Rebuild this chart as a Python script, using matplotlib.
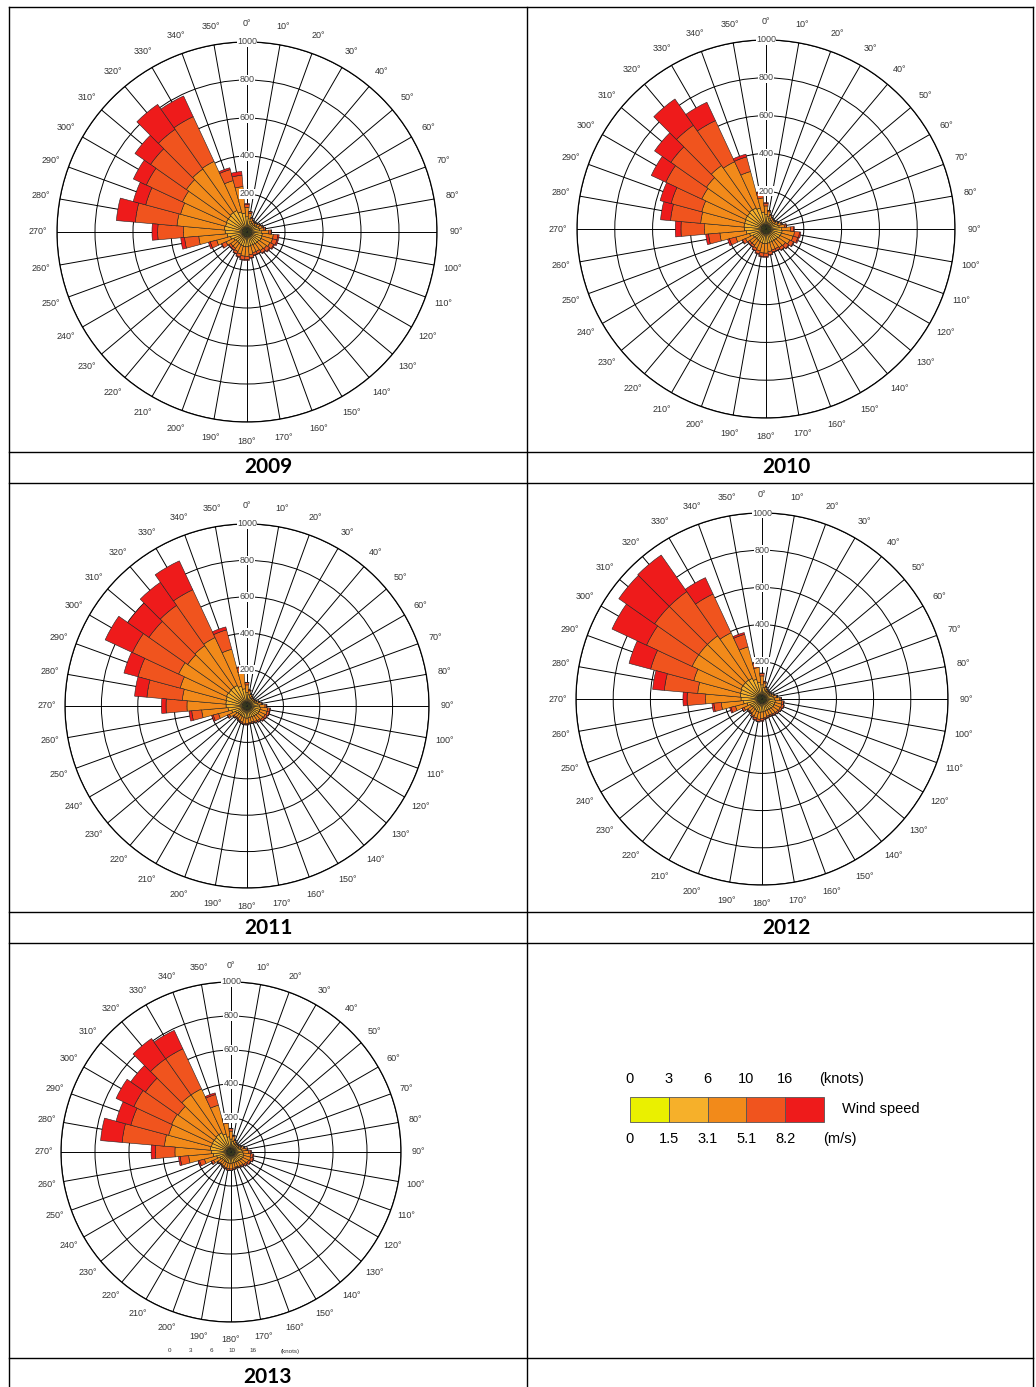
import numpy as np
import matplotlib
matplotlib.use("Agg")
import matplotlib.pyplot as plt
from matplotlib.lines import Line2D
from matplotlib.patches import Rectangle

plt.rcParams["font.family"] = ["Liberation Sans", "DejaVu Sans"]

W, H = 1036, 1387

# Data: counts per 10-degree sector, split by wind-speed class
directions = np.arange(0, 360, 10)
speed_colors = ["#EAF000", "#F6B02A", "#F28A1A", "#F0541E", "#EE1B1B"]
knots_ticks = ["0", "3", "6", "10", "16"]
ms_ticks = ["0", "1.5", "3.1", "5.1", "8.2"]
r_ticks = [200, 400, 600, 800, 1000]
years = ["2009", "2010", "2011", "2012", "2013"]

# each: [0-1.5, 1.5-3.1, 3.1-5.1, 5.1-8.2, >8.2 m/s], directions 0..350
wr2009 = [
    [25, 25, 22, 22, 20, 22, 22, 24, 25, 25, 26, 26, 26, 25, 25, 25, 25, 25, 26, 26, 25, 25, 24, 24, 25, 25, 25, 25, 25, 25, 25, 25, 25, 25, 25, 25],
    [55, 45, 35, 30, 28, 30, 35, 40, 42, 50, 55, 55, 55, 50, 50, 48, 48, 50, 52, 52, 50, 48, 46, 46, 52, 65, 80, 90, 95, 92, 95, 95, 100, 100, 85, 75],
    [50, 30, 17, 14, 13, 14, 17, 19, 23, 40, 58, 58, 52, 50, 45, 40, 40, 45, 50, 50, 45, 40, 35, 35, 45, 75, 150, 220, 250, 245, 255, 270, 280, 285, 170, 140],
    [15, 8, 5, 4, 4, 4, 5, 6, 8, 12, 24, 24, 22, 20, 16, 14, 14, 16, 18, 18, 16, 14, 12, 12, 24, 35, 75, 135, 220, 190, 210, 230, 255, 260, 60, 60],
    [5, 2, 1, 0, 0, 0, 1, 1, 2, 3, 7, 7, 5, 5, 4, 3, 3, 4, 4, 4, 4, 3, 3, 3, 4, 10, 20, 30, 100, 68, 75, 100, 160, 120, 10, 20],
]
wr2010 = [
    [25, 24, 22, 22, 20, 20, 22, 24, 25, 26, 26, 26, 26, 25, 25, 25, 25, 25, 26, 26, 25, 25, 24, 24, 25, 25, 25, 25, 25, 25, 25, 25, 25, 25, 25, 25],
    [52, 42, 35, 30, 28, 28, 33, 40, 45, 55, 60, 58, 55, 50, 48, 48, 48, 50, 52, 52, 50, 48, 46, 46, 50, 65, 80, 90, 92, 92, 95, 95, 100, 98, 90, 65],
    [45, 26, 17, 14, 13, 13, 15, 19, 28, 48, 65, 64, 58, 50, 48, 42, 42, 45, 50, 50, 45, 40, 35, 35, 45, 75, 140, 210, 230, 235, 255, 265, 285, 270, 200, 75],
    [14, 6, 5, 4, 4, 4, 4, 6, 10, 17, 27, 26, 22, 21, 16, 12, 12, 16, 18, 18, 16, 14, 12, 12, 17, 35, 60, 125, 160, 168, 210, 230, 260, 240, 80, 28],
    [4, 2, 1, 0, 0, 0, 1, 1, 2, 4, 7, 6, 4, 4, 3, 3, 3, 4, 4, 4, 4, 3, 3, 3, 3, 10, 15, 30, 53, 60, 85, 105, 170, 107, 15, 7],
]
wr2011 = [
    [24, 22, 20, 20, 18, 18, 20, 22, 23, 24, 24, 24, 24, 24, 23, 23, 22, 22, 23, 23, 22, 22, 21, 21, 23, 25, 25, 25, 25, 25, 25, 25, 25, 25, 25, 25],
    [50, 40, 32, 28, 26, 26, 28, 32, 38, 45, 50, 50, 48, 46, 44, 42, 42, 42, 44, 44, 42, 40, 38, 40, 46, 62, 80, 90, 92, 95, 100, 98, 100, 100, 88, 70],
    [42, 22, 14, 10, 9, 9, 10, 13, 18, 30, 40, 40, 38, 36, 32, 30, 28, 28, 29, 29, 28, 26, 24, 26, 38, 75, 145, 215, 240, 260, 290, 275, 280, 290, 210, 95],
    [12, 5, 3, 2, 2, 2, 2, 3, 5, 9, 13, 13, 12, 11, 9, 8, 7, 7, 7, 7, 7, 6, 6, 7, 11, 30, 55, 115, 195, 240, 280, 260, 270, 290, 110, 25],
    [2, 1, 1, 0, 0, 0, 0, 0, 1, 2, 3, 3, 3, 3, 2, 2, 1, 1, 2, 2, 1, 1, 1, 1, 2, 8, 15, 25, 68, 80, 165, 142, 155, 175, 17, 5],
]
wr2012 = [
    [24, 22, 20, 20, 18, 18, 20, 22, 23, 24, 24, 24, 24, 24, 23, 23, 23, 23, 24, 24, 24, 23, 22, 22, 23, 25, 25, 25, 25, 25, 25, 25, 25, 25, 25, 25],
    [52, 40, 32, 28, 26, 26, 28, 32, 38, 44, 48, 48, 48, 46, 44, 42, 42, 44, 46, 48, 46, 44, 42, 42, 46, 58, 75, 88, 92, 95, 100, 100, 100, 98, 85, 65],
    [48, 25, 14, 10, 9, 9, 10, 13, 18, 28, 36, 38, 36, 34, 33, 31, 31, 33, 36, 38, 36, 33, 28, 28, 38, 65, 120, 190, 230, 260, 290, 290, 290, 270, 180, 80],
    [13, 6, 3, 2, 2, 2, 2, 3, 5, 7, 10, 12, 10, 9, 8, 7, 7, 8, 11, 12, 11, 8, 6, 6, 11, 25, 40, 100, 180, 240, 270, 290, 290, 230, 70, 25],
    [3, 2, 1, 0, 0, 0, 0, 0, 1, 2, 2, 3, 2, 2, 2, 2, 2, 2, 3, 3, 3, 2, 2, 2, 2, 7, 10, 22, 63, 120, 205, 235, 240, 97, 10, 5],
]
wr2013 = [
    [24, 22, 21, 20, 19, 19, 20, 22, 23, 24, 24, 24, 24, 24, 23, 23, 22, 23, 23, 23, 23, 22, 22, 22, 23, 25, 25, 25, 25, 25, 25, 25, 25, 25, 25, 25],
    [52, 42, 34, 30, 28, 28, 32, 38, 42, 46, 50, 52, 50, 46, 44, 42, 42, 42, 44, 44, 42, 42, 40, 42, 48, 62, 80, 90, 98, 95, 96, 95, 100, 100, 85, 65],
    [47, 28, 16, 12, 11, 11, 14, 19, 25, 35, 42, 44, 40, 36, 32, 31, 29, 31, 33, 33, 31, 29, 27, 29, 42, 75, 145, 215, 270, 260, 265, 260, 285, 285, 175, 80],
    [14, 6, 3, 3, 2, 2, 3, 5, 8, 12, 15, 16, 13, 11, 9, 7, 6, 7, 8, 8, 7, 6, 5, 6, 14, 30, 50, 115, 250, 230, 245, 235, 260, 260, 65, 25],
    [3, 2, 1, 0, 0, 0, 1, 1, 2, 3, 4, 4, 3, 3, 2, 2, 1, 2, 2, 2, 2, 1, 1, 1, 3, 8, 10, 25, 127, 90, 115, 105, 145, 120, 10, 5],
]
roses = [wr2009, wr2010, wr2011, wr2012, wr2013]

# layout (pixels): rose centre x, centre y, radius; year label position
panels = [(247, 232, 190), (766, 229, 189), (247, 706, 182), (762, 699, 186), (231, 1152, 170)]
label_pos = [(268, 467), (786, 467), (268, 928), (786, 928), (268, 1377)]

fig = plt.figure(figsize=(W / 100, H / 100), dpi=100)


def fx(x):
    return x / W


def fy(y):
    return 1 - y / H


def draw_rose(data, cx, cy, r):
    ax = fig.add_axes([fx(cx - r), fy(cy + r), 2 * r / W, 2 * r / H], projection="polar")
    ax.set_theta_zero_location("N")
    ax.set_theta_direction(-1)
    ax.set_ylim(0, 1000)
    ax.set_xticks(np.deg2rad(directions))
    ax.set_yticks(r_ticks)
    ax.set_xticklabels([])
    ax.set_yticklabels([])
    ax.tick_params(length=0)
    ax.grid(True, color="black", lw=0.7)
    ax.spines["polar"].set_linewidth(0.9)
    th = np.deg2rad(directions)
    bottom = np.zeros(len(directions))
    for vals, col in zip(data, speed_colors):
        vals = np.array(vals, dtype=float)
        ax.bar(th, vals, width=np.deg2rad(10), bottom=bottom, color=col,
               edgecolor="#222222", lw=0.4, zorder=3)
        bottom += vals
    for d in directions:
        ax.text(np.deg2rad(d), 1100, f"{d}°", ha="center", va="center",
                fontsize=6.5, color="#333333")
    for rt in r_ticks:
        ax.text(0, rt, str(rt), ha="center", va="center", fontsize=6.5, color="#444444",
                bbox=dict(fc="white", ec="none", pad=0.2), zorder=5)
    return ax


for data, (cx, cy, r), yr, (lx, ly) in zip(roses, panels, years, label_pos):
    draw_rose(data, cx, cy, r)
    fig.text(fx(lx), fy(ly), yr, ha="center", va="center", fontsize=15,
             fontweight="bold", family=["Lato", "DejaVu Sans"])

# table frame
for x in [9, 527, 1033]:
    fig.add_artist(Line2D([fx(x), fx(x)], [fy(7), fy(1387)], color="black", lw=1.0))
for y in [7, 452, 483, 912, 943, 1358]:
    fig.add_artist(Line2D([fx(9), fx(1033)], [fy(y), fy(y)], color="black", lw=1.0))

# speed legend
x0, cell_w, y_top, y_bot = 630, 38.8, 1097, 1122
for i, col in enumerate(speed_colors):
    fig.add_artist(Rectangle((fx(x0 + i * cell_w), fy(y_bot)), cell_w / W, (y_bot - y_top) / H,
                             transform=fig.transFigure, fc=col, ec="#555555", lw=0.6))
for i, (kt, mt) in enumerate(zip(knots_ticks, ms_ticks)):
    fig.text(fx(x0 + i * cell_w), fy(1079), kt, ha="center", va="center", fontsize=10.5)
    fig.text(fx(x0 + i * cell_w), fy(1139), mt, ha="center", va="center", fontsize=10.5)
fig.text(fx(842), fy(1079), "(knots)", ha="center", va="center", fontsize=10.5)
fig.text(fx(840), fy(1139), "(m/s)", ha="center", va="center", fontsize=10.5)
fig.text(fx(842), fy(1109), "Wind speed", ha="left", va="center", fontsize=10.5)

# tiny knots scale under the 2013 rose
for i, kt in enumerate(knots_ticks):
    fig.text(fx(170 + i * 20.8), fy(1351), kt, ha="center", va="center", fontsize=4.5, color="#333333")
fig.text(fx(290), fy(1351), "(knots)", ha="center", va="center", fontsize=4.5, color="#333333")

fig.savefig("out.png", dpi=100)
